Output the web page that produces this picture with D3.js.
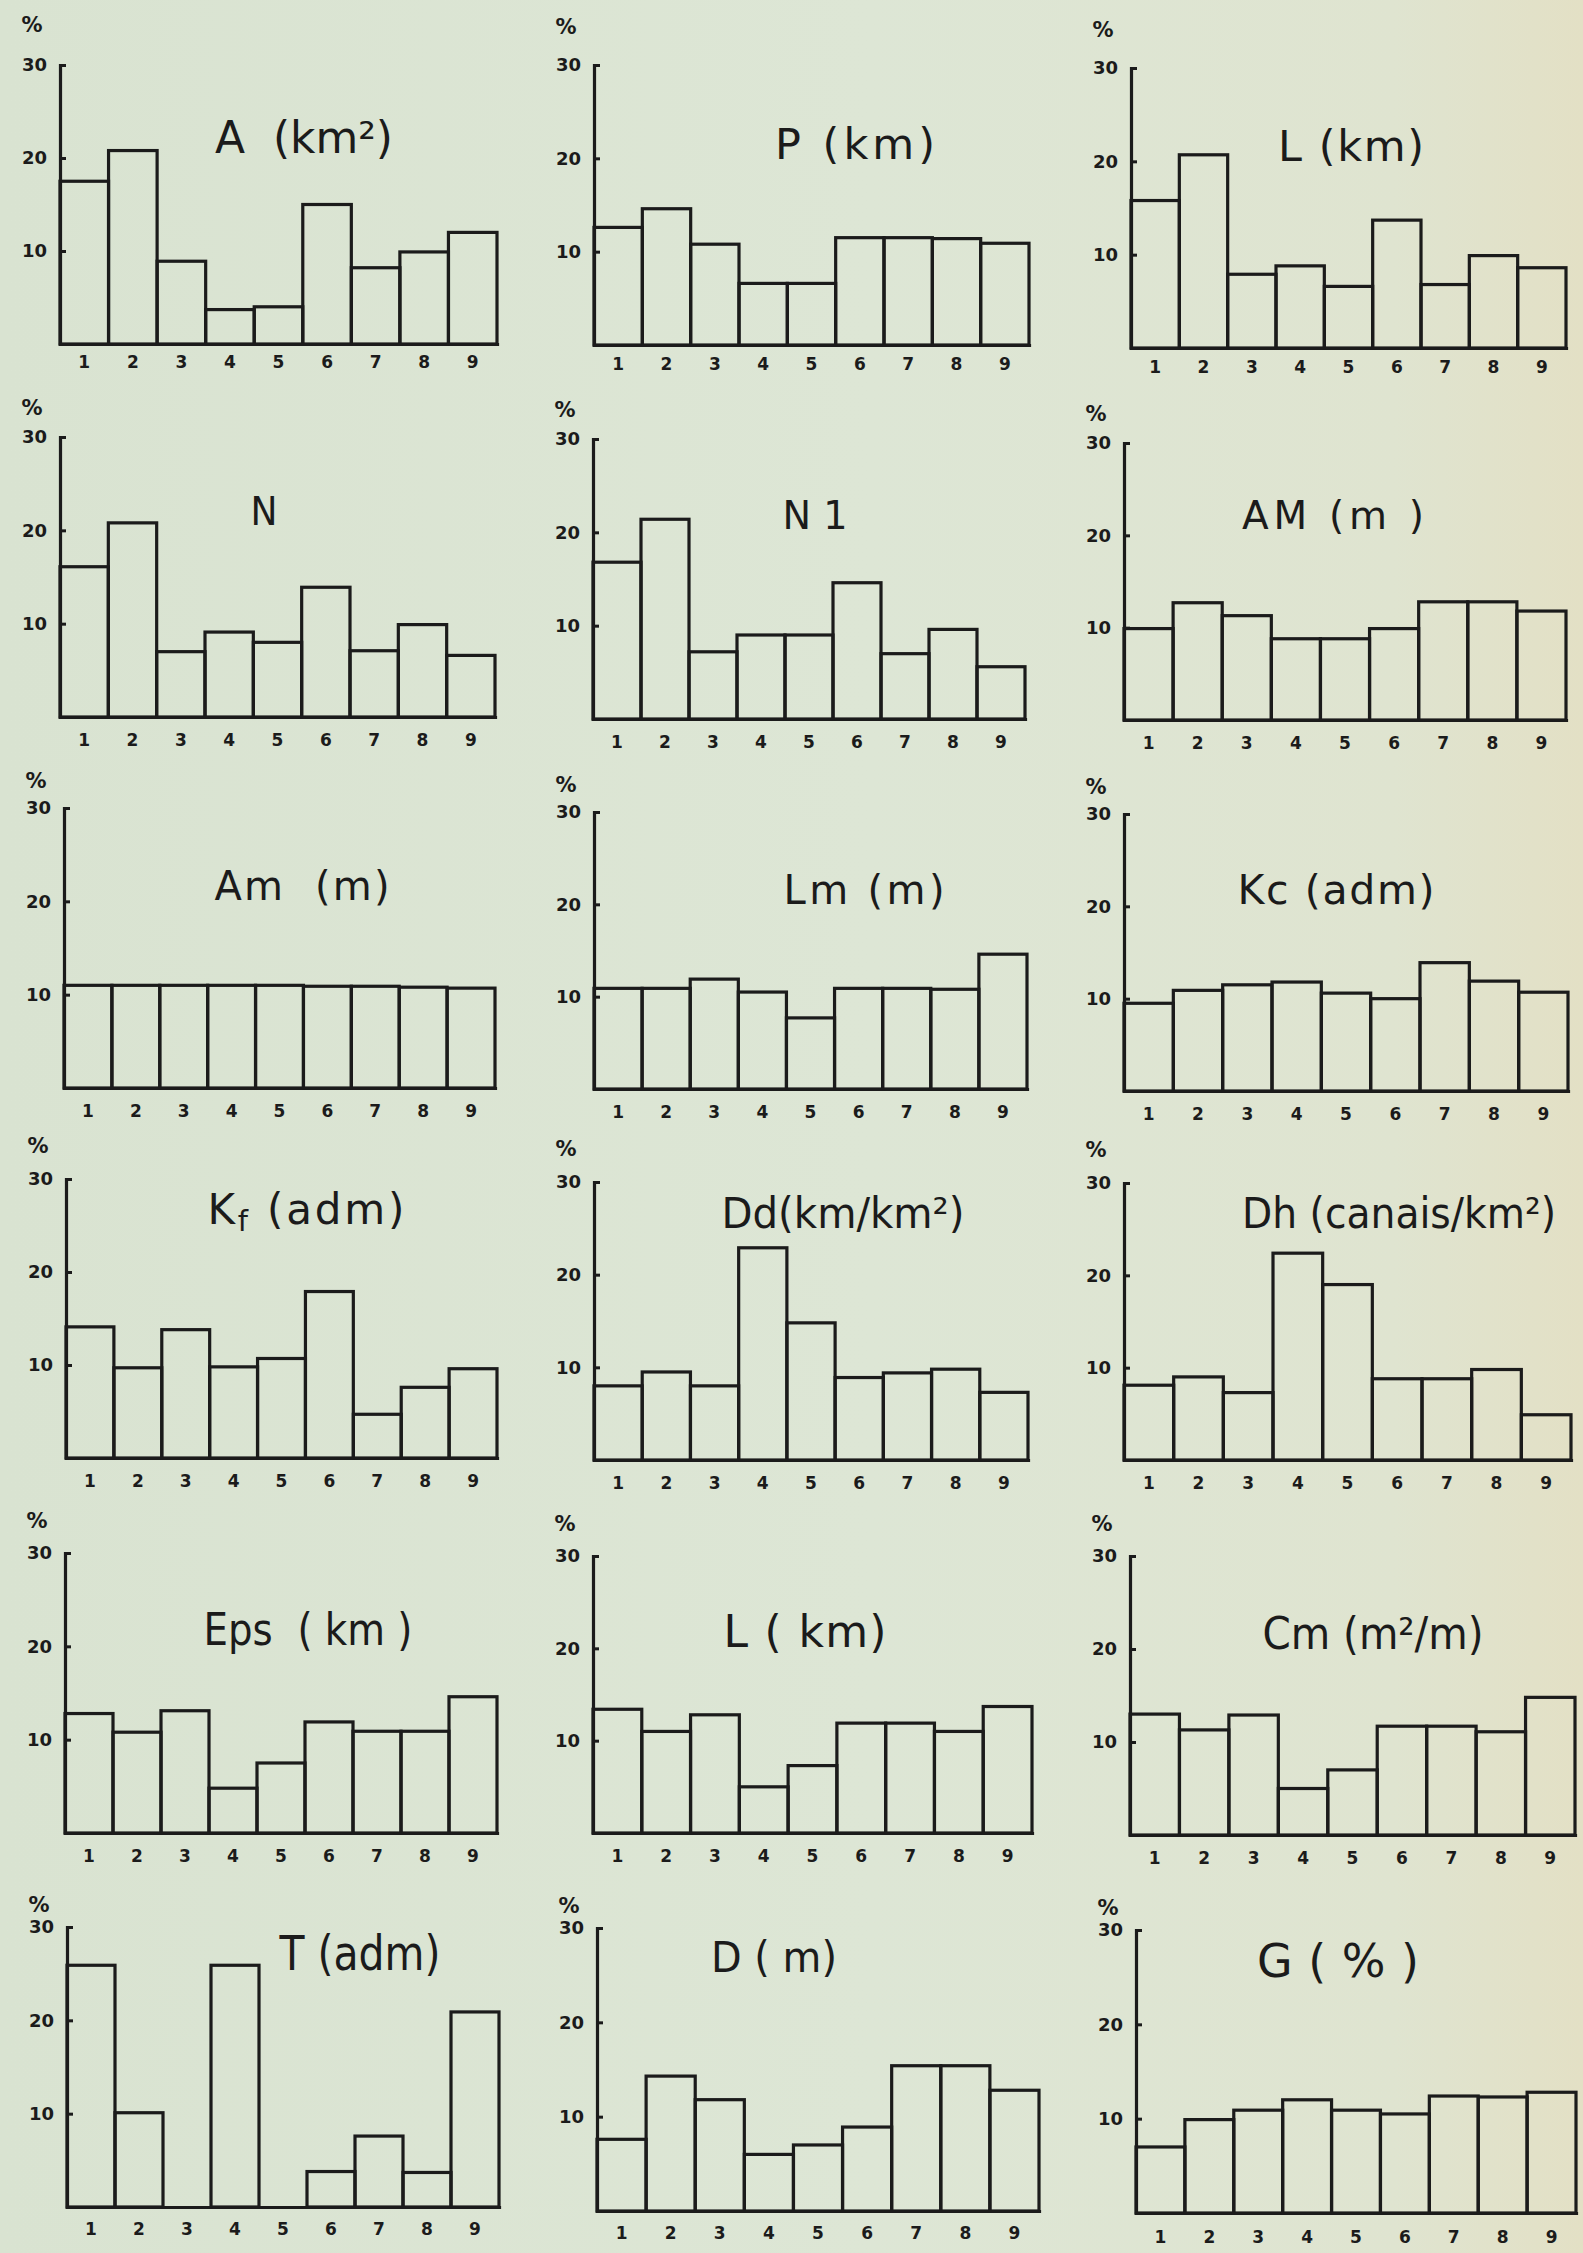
<!DOCTYPE html>
<html>
<head>
<meta charset="utf-8">
<script src="https://cdn.jsdelivr.net/npm/d3@7"></script>
<style>
  html, body { margin: 0; padding: 0; background: #dce5d4; }
  svg { display: block; }
  .title { white-space: pre; }
</style>
</head>
<body>
<svg id="chart" width="1583" height="2253"></svg>
<script>
// Class numbers on the horizontal axis and the percent scale on the vertical one
const categories = ["1", "2", "3", "4", "5", "6", "7", "8", "9"];
const yTickValues = [10, 20, 30];
const yTickLabels = ["10", "20", "30"];
const unitLabel = "%";

// Frequency (%) of each class, one array per morphometric parameter
const areaA        = [17.5, 20.8, 8.9, 3.7, 4.0, 15.0, 8.2, 9.9, 12.0];
const perimeterP   = [12.6, 14.6, 10.8, 6.6, 6.6, 11.5, 11.5, 11.4, 10.9];
const lengthL      = [15.8, 20.7, 7.9, 8.8, 6.6, 13.7, 6.8, 9.9, 8.6];
const orderN       = [16.1, 20.8, 7.0, 9.1, 8.0, 13.9, 7.1, 9.9, 6.6];
const firstOrderN1 = [16.8, 21.4, 7.2, 9.0, 9.0, 14.6, 7.0, 9.6, 5.6];
const reliefAM     = [9.9, 12.7, 11.3, 8.8, 8.8, 9.9, 12.8, 12.8, 11.8];
const meanAltAm    = [11.0, 11.0, 11.0, 11.0, 11.0, 10.9, 10.9, 10.8, 10.7];
const meanLenLm    = [10.9, 10.9, 11.9, 10.5, 7.7, 10.9, 10.9, 10.8, 14.6];
const compactKc    = [9.5, 10.9, 11.5, 11.8, 10.6, 10.0, 13.9, 11.9, 10.7];
const formKf       = [14.1, 9.7, 13.8, 9.8, 10.7, 17.9, 4.7, 7.6, 9.6];
const drainageDd   = [8.0, 9.5, 8.0, 22.9, 14.8, 8.9, 9.4, 9.8, 7.3];
const hydroDh      = [8.1, 9.0, 7.3, 22.4, 19.0, 8.8, 8.8, 9.8, 4.9];
const spacingEps   = [12.8, 10.8, 13.1, 4.8, 7.5, 11.9, 10.9, 10.9, 14.6];
const lengthL2     = [13.4, 11.0, 12.8, 5.0, 7.3, 11.9, 11.9, 11.0, 13.7];
const maintainCm   = [13.0, 11.3, 12.9, 5.0, 7.0, 11.7, 11.7, 11.1, 14.8];
const textureT     = [25.9, 10.1, 0, 25.9, 0, 3.8, 7.6, 3.7, 20.9];
const depthD       = [7.6, 14.3, 11.8, 6.0, 7.0, 8.9, 15.4, 15.4, 12.8];
const gradientG    = [7.0, 9.9, 10.9, 12.0, 10.9, 10.5, 12.4, 12.3, 12.8];

// Panel titles ("_x" marks a subscript character)
const titles = [
  "A  (km²)", "P (km)", "L (km)",
  "N", "N 1", "AM (m )",
  "Am  (m)", "Lm (m)", "Kc (adm)",
  "K_f (adm)", "Dd(km/km²)", "Dh (canais/km²)",
  "Eps  ( km )", "L ( km)", "Cm (m²/m)",
  "T (adm)", "D ( m)", "G ( % )"
];

const seriesList = [
  areaA, perimeterP, lengthL,
  orderN, firstOrderN1, reliefAM,
  meanAltAm, meanLenLm, compactKc,
  formKf, drainageDd, hydroDh,
  spacingEps, lengthL2, maintainCm,
  textureT, depthD, gradientG
];

// Placement of each small histogram on the sheet:
// x0/x1 = plot left/right, y30/y0 = pixel rows of 30% and 0%,
// tx/ty/tw/fs = title centre, baseline, width and size, pg = gap above "30" for "%"
const frames = [
  {x0: 60,   x1: 497,  y30: 65,   y0: 344,  tx: 304,  ty: 153,  tw: 178, fs: 44, pg: 40, xg: 12},
  {x0: 594,  x1: 1029, y30: 65,   y0: 345,  tx: 855,  ty: 159,  tw: 160, fs: 43, pg: 38, xg: 13},
  {x0: 1131, x1: 1566, y30: 68,   y0: 348,  tx: 1351, ty: 161,  tw: 146, fs: 43, pg: 38, xg: 13},
  {x0: 60,   x1: 495,  y30: 437,  y0: 717,  tx: 264,  ty: 525,  tw: 27,  fs: 39, pg: 29, xg: 17},
  {x0: 593,  x1: 1025, y30: 439,  y0: 719,  tx: 815,  ty: 529,  tw: 65,  fs: 39, pg: 29, xg: 17},
  {x0: 1124, x1: 1566, y30: 443,  y0: 720,  tx: 1333, ty: 529,  tw: 182, fs: 39, pg: 29, xg: 17},
  {x0: 64,   x1: 495,  y30: 808,  y0: 1088, tx: 302,  ty: 900,  tw: 175, fs: 40, pg: 27, xg: 17},
  {x0: 594,  x1: 1027, y30: 812,  y0: 1089, tx: 864,  ty: 904,  tw: 161, fs: 40, pg: 27, xg: 17},
  {x0: 1124, x1: 1568, y30: 814,  y0: 1091, tx: 1336, ty: 904,  tw: 197, fs: 41, pg: 27, xg: 17},
  {x0: 66,   x1: 497,  y30: 1179, y0: 1458, tx: 306,  ty: 1224, tw: 197, fs: 42, pg: 33, xg: 17},
  {x0: 594,  x1: 1028, y30: 1182, y0: 1460, tx: 843,  ty: 1228, tw: 243, fs: 42, pg: 33, xg: 17},
  {x0: 1124, x1: 1571, y30: 1183, y0: 1460, tx: 1399, ty: 1228, tw: 314, fs: 42, pg: 33, xg: 17},
  {x0: 65,   x1: 497,  y30: 1553, y0: 1833, tx: 308,  ty: 1645, tw: 209, fs: 45, pg: 32, xg: 17},
  {x0: 593,  x1: 1032, y30: 1556, y0: 1833, tx: 805,  ty: 1647, tw: 163, fs: 44, pg: 32, xg: 17},
  {x0: 1130, x1: 1575, y30: 1556, y0: 1835, tx: 1373, ty: 1649, tw: 221, fs: 44, pg: 32, xg: 17},
  {x0: 67,   x1: 499,  y30: 1927, y0: 2207, tx: 360,  ty: 1970, tw: 161, fs: 48, pg: 22, xg: 16},
  {x0: 597,  x1: 1039, y30: 1928, y0: 2211, tx: 774,  ty: 1972, tw: 126, fs: 43, pg: 22, xg: 16},
  {x0: 1136, x1: 1576, y30: 1930, y0: 2213, tx: 1338, ty: 1977, tw: 162, fs: 46, pg: 22, xg: 18}
];

const ink = "#1b1b1b";
const tickFont = "'DejaVu Sans', 'Liberation Sans', sans-serif";
const titleFont = "'DejaVu Sans', 'Noto Sans', sans-serif";

const svg = d3.select("#chart");

// Paper tone: pale sage, drifting slightly yellow towards the right edge
const defs = svg.append("defs");
const grad = defs.append("linearGradient").attr("id", "paper")
  .attr("x1", "0%").attr("x2", "100%").attr("y1", "0%").attr("y2", "0%");
grad.append("stop").attr("offset", "0%").attr("stop-color", "#d9e3d1");
grad.append("stop").attr("offset", "55%").attr("stop-color", "#dde6d5");
grad.append("stop").attr("offset", "88%").attr("stop-color", "#dfe4d0");
grad.append("stop").attr("offset", "100%").attr("stop-color", "#e3e0c5");
svg.append("rect").attr("width", 1583).attr("height", 2253).attr("fill", "url(#paper)");

seriesList.forEach((values, i) => {
  const f = frames[i];
  const g = svg.append("g").attr("class", "panel");

  const x = d3.scaleBand().domain(categories).range([f.x0, f.x1]).paddingInner(0).paddingOuter(0);
  const y = d3.scaleLinear().domain([0, 30]).range([f.y0, f.y30]);

  // Histogram bars (outlined, unfilled)
  g.selectAll("rect.bar")
    .data(values)
    .join("rect")
    .attr("class", "bar")
    .attr("x", (d, j) => x(categories[j]))
    .attr("y", d => y(d))
    .attr("width", x.bandwidth())
    .attr("height", d => y(0) - y(d))
    .attr("fill", "none")
    .attr("stroke", ink)
    .attr("stroke-width", 3.2)
    .attr("stroke-linejoin", "miter");

  // Vertical percent axis with inward ticks
  const yAxis = g.append("g")
    .attr("transform", `translate(${f.x0},0)`)
    .call(d3.axisLeft(y)
      .tickValues(yTickValues)
      .tickFormat((d, k) => yTickLabels[k])
      .tickSize(-6)
      .tickSizeOuter(0)
      .tickPadding(13));
  yAxis.select(".domain").attr("stroke", ink).attr("stroke-width", 3.2).attr("stroke-linecap", "square");
  yAxis.selectAll(".tick line").attr("stroke", ink).attr("stroke-width", 3);
  yAxis.selectAll(".tick text")
    .attr("fill", ink)
    .style("font-family", tickFont)
    .style("font-size", "18px")
    .style("font-weight", "bold");

  // Baseline and class numbers
  const xAxis = g.append("g")
    .attr("transform", `translate(0,${f.y0})`)
    .call(d3.axisBottom(x).tickSize(0).tickSizeOuter(0).tickPadding(f.xg));
  xAxis.select(".domain").attr("stroke", ink).attr("stroke-width", 3.2).attr("stroke-linecap", "square");
  xAxis.selectAll(".tick text")
    .attr("fill", ink)
    .style("font-family", tickFont)
    .style("font-size", "17px")
    .style("font-weight", "bold");

  // Unit mark above the axis
  g.append("text")
    .attr("x", f.x0 - 28)
    .attr("y", y(30) - f.pg)
    .attr("dy", "0.35em")
    .attr("text-anchor", "middle")
    .attr("fill", ink)
    .style("font-family", tickFont)
    .style("font-size", "21px")
    .style("font-weight", "bold")
    .text(unitLabel);

  // Panel title, with optional subscript
  const t = g.append("text")
    .attr("class", "title")
    .attr("x", f.tx)
    .attr("y", f.ty)
    .attr("text-anchor", "middle")
    .attr("fill", ink)
    .style("font-family", titleFont)
    .style("font-size", f.fs + "px");
  const parts = titles[i].split(/_(.)/);
  parts.forEach((s, k) => {
    if (!s) return;
    const span = t.append("tspan").text(s);
    if (k % 2 === 1) {
      span.attr("baseline-shift", "-25%").style("font-size", Math.round(f.fs * 0.7) + "px");
    }
  });
  // Fit the lettering to its width: widen the gaps, or narrow the glyphs when too long
  const natural = t.node().getComputedTextLength();
  t.attr("textLength", f.tw)
   .attr("lengthAdjust", natural > f.tw ? "spacingAndGlyphs" : "spacing");
});
</script>
</body>
</html>
